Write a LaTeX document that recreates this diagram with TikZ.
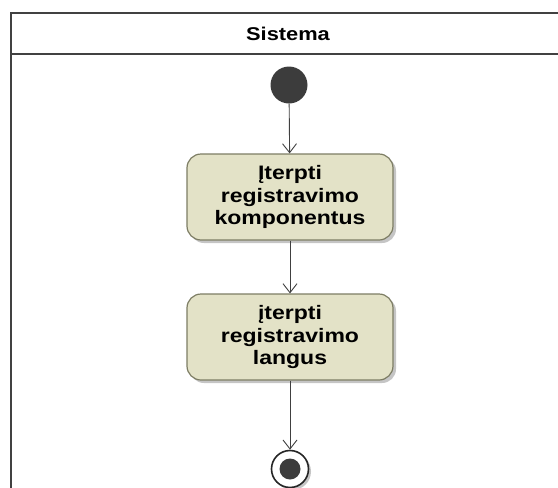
\documentclass[tikz,border=0pt]{standalone}
\usepackage{fontspec}
\setmainfont{Liberation Sans}
\newfontfamily\umlfont[FakeStretch=1.18]{Liberation Sans}
\usetikzlibrary{arrows.meta,shadows}

\definecolor{actfill}{RGB}{227,226,199}
\definecolor{actborder}{RGB}{125,125,100}
\definecolor{framecol}{RGB}{65,65,65}
\definecolor{dotcol}{RGB}{60,60,60}

\begin{document}
\begin{tikzpicture}[x=1pt,y=-1pt,
  framebox/.style={draw=framecol, line width=2.9pt},
  action/.style={draw=actborder, line width=1.2pt, fill=actfill,
    rounded corners=14pt, minimum width=206pt, minimum height=86pt,
    inner sep=0pt, align=center,
    font=\umlfont\bfseries\fontsize{19.5}{22.5}\selectfont,
    drop shadow={shadow xshift=3pt, shadow yshift=-3pt, fill=black!45, opacity=0.5}},
  initnode/.style={circle, fill=dotcol, minimum size=37pt, inner sep=0pt},
  finalring/.style={circle, draw=black!85, line width=1.6pt, fill=white,
    minimum size=37pt, inner sep=0pt,
    drop shadow={shadow xshift=2.5pt, shadow yshift=-2.5pt, fill=black!45, opacity=0.5}},
  finaldot/.style={circle, fill=dotcol, minimum size=21pt, inner sep=0pt},
  flow/.style={draw=black!75, line width=0.9pt,
    -{Straight Barb[length=9pt,width=14pt,line width=0.9pt]}},
  titletext/.style={font=\umlfont\bfseries\fontsize{18.5}{22}\selectfont}
]
\useasboundingbox (0,0) rectangle (558,488);
\clip (0,0) rectangle (558,488);

% swimlane partition with its header
\draw[framebox] (11,13) rectangle (570,505);
\draw[framebox] (11,54) -- (570,54);
\node[titletext] (lane) at (288,34) {Sistema};

% activity nodes
\node[initnode] (start) at (289,85) {};
\node[action] (act1) at (290,197) {Įterpti\\registravimo\\komponentus};
\node[action] (act2) at (290,337) {įterpti\\registravimo\\langus};
\node[finalring] (end) at (290,469) {};
\node[finaldot] (enddot) at (end.center) {};

% control flows
\draw[flow] (start) -- (act1);
\draw[flow] (act1) -- (act2);
\draw[flow] (act2) -- (end);
\end{tikzpicture}
\end{document}
